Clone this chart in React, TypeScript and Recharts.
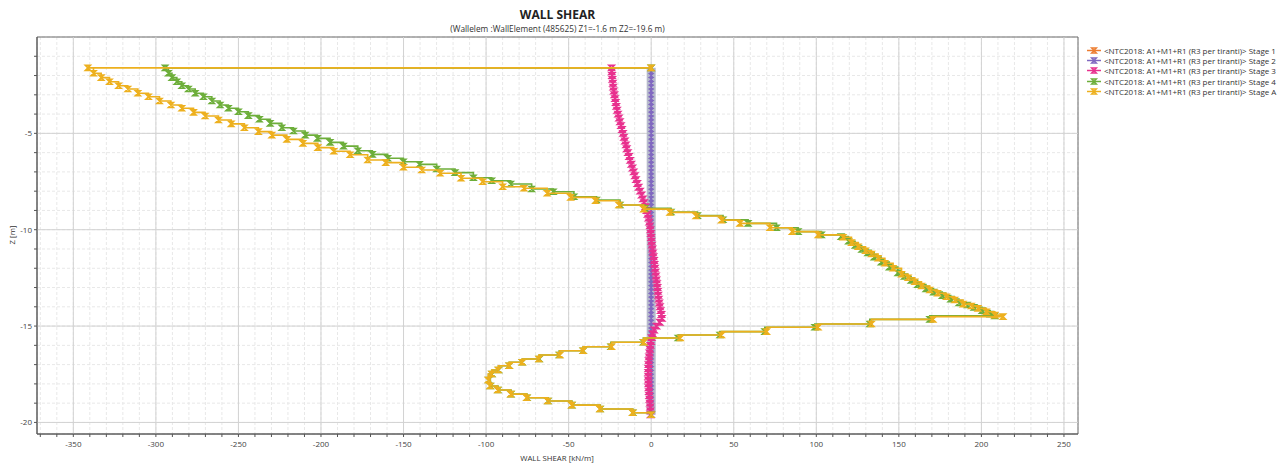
import React from 'react';
import { ScatterChart, Scatter, XAxis, YAxis, CartesianGrid, ReferenceLine, ReferenceArea } from 'recharts';

const FONT = "'Open Sans', 'Noto Sans', sans-serif";

// Depth of wall nodes [m]
const nodeDepths = [
  -1.6, -1.8, -2.0, -2.2, -2.4, -2.6, -2.8, -3.0, -3.2, -3.4,
  -3.6, -3.8, -4.0, -4.2, -4.4, -4.6, -4.8, -5.0, -5.2, -5.4,
  -5.6, -5.8, -6.0, -6.2, -6.4, -6.6, -6.8, -7.0, -7.2, -7.4,
  -7.6, -7.8, -8.0, -8.2, -8.4, -8.6, -8.8, -9.0, -9.2, -9.4,
  -9.6, -9.8, -10.0, -10.2, -10.4, -10.6, -10.8, -11.0, -11.2, -11.4,
  -11.6, -11.8, -12.0, -12.2, -12.4, -12.6, -12.8, -13.0, -13.2, -13.4,
  -13.6, -13.8, -14.0, -14.2, -14.4, -14.6, -14.8, -15.0, -15.2, -15.4,
  -15.6, -15.8, -16.0, -16.2, -16.4, -16.6, -16.8, -17.0, -17.2, -17.4,
  -17.6, -17.8, -18.0, -18.2, -18.4, -18.6, -18.8, -19.0, -19.2, -19.4,
  -19.6,
];

const stage1Shear = [
  0, 0, 0, 0, 0, 0, 0, 0, 0, 0,
  0, 0, 0, 0, 0, 0, 0, 0, 0, 0,
  0, 0, 0, 0, 0, 0, 0, 0, 0, 0,
  0, 0, 0, 0, 0, 0, 0, 0, 0, 0,
  0, 0, 0, 0, 0, 0, 0, 0, 0, 0,
  0, 0, 0, 0, 0, 0, 0, 0, 0, 0,
  0, 0, 0, 0, 0, 0, 0, 0, 0, 0,
  0, 0, 0, 0, 0, 0, 0, 0, 0, 0,
  0, 0, 0, 0, 0, 0, 0, 0, 0, 0,
  0,
];

const stage2Shear = [
  0, 0, 0, 0, 0, 0, 0, 0, 0, 0,
  0, 0, 0, 0, 0, 0, 0, 0, 0, 0,
  0, 0, 0, 0, 0, 0, 0, 0, 0, 0,
  0, 0, 0, 0, 0, 0, 0, 0, 0, 0,
  0, 0, 0, 0, 0, 0, 0, 0, 0, 0,
  0, 0, 0, 0, 0, 0, 0, 0, 0, 0,
  0, 0, 0, 0, 0, 0, 0, 0, 0, 0,
  0, 0, 0, 0, 0, 0, 0, 0, 0, 0,
  0, 0, 0, 0, 0, 0, 0, 0, 0, 0,
  0,
];

const stage3Shear = [
  -24.0, -23.9, -23.7, -23.5, -23.2, -23.0, -22.7, -22.3, -21.9, -21.5,
  -21.1, -20.6, -20.1, -19.5, -18.9, -18.3, -17.7, -17.1, -16.5, -15.9,
  -15.3, -14.8, -14.1, -13.4, -12.7, -12.0, -11.3, -10.6, -9.9, -9.2,
  -8.4, -7.6, -6.7, -5.8, -5.0, -4.3, -3.5, -2.8, -2.2, -1.7,
  -1.2, -0.8, -0.5, -0.2, 0.0, 0.2, 0.5, 0.8, 1.1, 1.4,
  1.7, 2.0, 2.3, 2.6, 2.9, 3.2, 3.5, 3.8, 4.0, 4.3,
  4.6, 4.9, 5.3, 5.7, 6.2, 6.5, 5.2, 3.2, 1.8, 0.9,
  0.3, -0.1, -0.5, -0.8, -1.1, -1.3, -1.5, -1.6, -1.7, -1.8,
  -1.8, -1.8, -1.7, -1.6, -1.4, -1.2, -1.0, -0.8, -0.6, -0.5,
  -0.4,
];

const stage4Depths = [
  -1.6, -1.6, -1.88, -2.11, -2.32, -2.53, -2.70, -2.92, -3.10, -3.32,
  -3.53, -3.70, -3.88, -4.08, -4.27, -4.48, -4.71, -4.88, -5.09, -5.26,
  -5.47, -5.66, -5.90, -6.09, -6.29, -6.47, -6.61, -6.85, -7.04, -7.30,
  -7.46, -7.63, -7.89, -8.03, -8.29, -8.46, -8.72, -8.89, -9.08, -9.27,
  -9.48, -9.67, -9.90, -10.10, -10.27, -10.36, -10.60, -10.82, -11.03, -11.20,
  -11.42, -11.68, -11.94, -12.24, -12.43, -12.63, -12.85, -13.07, -13.24, -13.42,
  -13.60, -13.80, -13.91, -14.03, -14.20, -14.38, -14.47, -14.65, -14.89, -15.06,
  -15.29, -15.46, -15.62, -15.84, -16.07, -16.28, -16.50, -16.71, -16.88, -17.06,
  -17.28, -17.49, -17.80, -18.11, -18.32, -18.53, -18.72, -18.89, -19.10, -19.30,
  -19.50, -19.6,
];

const stage4Shear = [
  0, -294.4, -292.4, -290.3, -287.3, -284.3, -280.3, -276.2, -271.2, -266.1,
  -261.1, -256.1, -250.0, -244.0, -237.3, -230.8, -223.7, -216.7, -209.6, -202.2,
  -194.5, -186.4, -177.7, -168.9, -159.6, -150.1, -140.4, -129.9, -118.8, -107.7,
  -96.6, -85.1, -72.4, -59.3, -46.8, -33.1, -18.9, -3.8, 12.0, 28.0,
  43.5, 58.7, 75.9, 89.0, 103.1, 115.0, 119.5, 123.5, 127.5, 131.2,
  135.0, 139.3, 144.2, 149.4, 153.3, 157.4, 161.4, 166.4, 171.0, 176.3,
  181.4, 186.4, 191.4, 195.5, 200.4, 205.3, 208.1, 168.7, 132.4, 99.1,
  68.8, 41.6, 16.3, -4.8, -24.4, -41.2, -55.7, -67.8, -78.1, -86.0,
  -92.4, -96.4, -98.5, -97.4, -92.8, -84.9, -75.2, -62.5, -48.0, -30.9,
  -11.1, 0,
];

const stageADepths = [
  -1.6, -1.6, -1.88, -2.11, -2.32, -2.53, -2.70, -2.92, -3.10, -3.32,
  -3.53, -3.70, -3.91, -4.10, -4.31, -4.51, -4.71, -4.91, -5.09, -5.31,
  -5.52, -5.74, -5.93, -6.11, -6.38, -6.52, -6.76, -6.90, -7.07, -7.33,
  -7.51, -7.77, -7.85, -8.11, -8.32, -8.50, -8.72, -8.93, -9.10, -9.29,
  -9.50, -9.67, -9.90, -10.10, -10.27, -10.39, -10.67, -10.88, -11.09, -11.26,
  -11.48, -11.74, -12.00, -12.31, -12.49, -12.70, -12.92, -13.13, -13.30, -13.48,
  -13.65, -13.86, -13.96, -14.08, -14.26, -14.43, -14.51, -14.65, -14.89, -15.06,
  -15.29, -15.46, -15.62, -15.84, -16.07, -16.28, -16.50, -16.71, -16.88, -17.06,
  -17.28, -17.49, -17.80, -18.11, -18.32, -18.53, -18.72, -18.89, -19.10, -19.30,
  -19.50, -19.6,
];

const stageAShear = [
  0, -341.2, -337.8, -333.1, -328.1, -322.6, -317.0, -310.9, -304.5, -297.8,
  -290.9, -284.3, -277.2, -270.2, -262.1, -254.4, -246.4, -237.9, -229.8, -220.7,
  -211.0, -201.9, -192.3, -182.4, -171.7, -160.8, -150.1, -139.0, -127.9, -115.2,
  -102.1, -90.0, -77.1, -63.0, -48.8, -33.7, -19.6, -4.6, 11.3, 27.1,
  42.6, 53.7, 71.9, 85.4, 101.1, 116.2, 121.3, 125.3, 129.8, 133.4,
  137.4, 141.5, 146.5, 151.6, 155.6, 159.6, 163.7, 168.7, 173.4, 178.8,
  183.8, 188.9, 193.9, 197.9, 203.0, 208.1, 213.1, 170.7, 133.4, 101.1,
  69.9, 42.6, 17.7, -4.4, -24.0, -41.2, -55.3, -68.0, -78.1, -86.0,
  -92.6, -96.6, -98.7, -97.6, -93.0, -85.1, -75.4, -62.7, -48.2, -31.1,
  -11.3, 0,
];

const xTicks = [
  -370, -360, -350, -340, -330, -320, -310, -300, -290, -280, -270, -260, -250, -240, -230, -220,
  -210, -200, -190, -180, -170, -160, -150, -140, -130, -120, -110, -100, -90, -80, -70, -60,
  -50, -40, -30, -20, -10, 0, 10, 20, 30, 40, 50, 60, 70, 80, 90, 100, 110, 120, 130, 140,
  150, 160, 170, 180, 190, 200, 210, 220, 230, 240, 250,
];
const xMajorTicks = [-350, -300, -250, -200, -150, -100, -50, 0, 50, 100, 150, 200, 250];
const yTicks = [-20, -19, -18, -17, -16, -15, -14, -13, -12, -11, -10, -9, -8, -7, -6, -5, -4, -3, -2, -1];
const yMajorTicks = [-20, -15, -10, -5];

const X_DOMAIN: [number, number] = [-372, 258.5];
const Y_DOMAIN: [number, number] = [-20.6, 0];

const seriesNames = [
  '<NTC2018: A1+M1+R1 (R3 per tiranti)> Stage 1',
  '<NTC2018: A1+M1+R1 (R3 per tiranti)> Stage 2',
  '<NTC2018: A1+M1+R1 (R3 per tiranti)> Stage 3',
  '<NTC2018: A1+M1+R1 (R3 per tiranti)> Stage 4',
  '<NTC2018: A1+M1+R1 (R3 per tiranti)> Stage A',
];
const seriesColors = ['#ED7D31', '#8068C0', '#E8318E', '#6DAE3A', '#EDB01E'];
const BAND_COLOR = '#B6BACB';

const toPoints = (xs: number[], zs: number[]) => xs.map((x, i) => ({ x, z: zs[i] }));

const data1 = toPoints(stage1Shear, nodeDepths);
const data2 = toPoints(stage2Shear, nodeDepths);
const data3 = toPoints(stage3Shear, nodeDepths);
const data4 = toPoints(stage4Shear, stage4Depths);
const dataA = toPoints(stageAShear, stageADepths);

const hourglass = (color: string, size: number, sw: number) => (props: any) => {
  const { cx, cy } = props;
  if (typeof cx !== 'number' || typeof cy !== 'number') return <g />;
  const s = size / 2;
  return (
    <path
      d={`M${cx - s},${cy - s}H${cx + s}L${cx - s},${cy + s}H${cx + s}Z`}
      fill="none"
      stroke={color}
      strokeWidth={sw}
    />
  );
};

const noShape = () => <g />;

const XTick = (props: any) => {
  const { x, y, payload } = props;
  if (payload.value % 50 !== 0) return <g />;
  return (
    <text x={x} y={y} dy={8} textAnchor="middle" fontSize={8} fontFamily={FONT} fill="#444">
      {payload.value}
    </text>
  );
};

const YTick = (props: any) => {
  const { x, y, payload } = props;
  if (payload.value % 5 !== 0) return <g />;
  return (
    <text x={x} y={y} dy={3} textAnchor="end" fontSize={8} fontFamily={FONT} fill="#444">
      {payload.value}
    </text>
  );
};

const LegendIcon = ({ color }: { color: string }) => (
  <svg width={14} height={9} style={{ display: 'block', flex: '0 0 auto' }}>
    <line x1={0} y1={4.5} x2={14} y2={4.5} stroke={color} strokeWidth={1.5} />
    <path d="M4.5,2H9.5L4.5,7H9.5Z" fill="none" stroke={color} strokeWidth={1.3} />
  </svg>
);

export default function App() {
  return (
    <div style={{ position: 'absolute', left: 0, top: 0, width: 1286, height: 466, background: '#fff', fontFamily: FONT }}>
      <div style={{ position: 'absolute', left: 557.5, top: 13.5, transform: 'translate(-50%, -50%)', fontSize: 12, fontWeight: 700, color: '#222', whiteSpace: 'nowrap' }}>
        WALL SHEAR
      </div>
      <div style={{ position: 'absolute', left: 557.5, top: 28.3, transform: 'translate(-50%, -50%)', fontSize: 8.3, color: '#333', whiteSpace: 'nowrap' }}>
        (Wallelem :WallElement (485625) Z1=-1.6 m Z2=-19.6 m)
      </div>
      <div style={{ position: 'absolute', left: 557, top: 458, transform: 'translate(-50%, -50%)', fontSize: 7.8, color: '#333', whiteSpace: 'nowrap' }}>
        WALL SHEAR [kN/m]
      </div>
      <div style={{ position: 'absolute', left: 12, top: 235, transform: 'translate(-50%, -50%) rotate(-90deg)', fontSize: 7.8, color: '#333', whiteSpace: 'nowrap' }}>
        Z [m]
      </div>

      <ScatterChart width={1286} height={466} margin={{ top: 37, right: 208, bottom: 12, left: 0 }}>
        <CartesianGrid stroke="#E8E8E8" strokeDasharray="3 2" />
        {xMajorTicks.map((v) => (
          <ReferenceLine key={'vx' + v} x={v} stroke="#D2D2D2" strokeWidth={1} />
        ))}
        {yMajorTicks.map((v) => (
          <ReferenceLine key={'hy' + v} y={v} stroke="#D2D2D2" strokeWidth={1} />
        ))}
        <XAxis
          type="number"
          dataKey="x"
          domain={X_DOMAIN}
          ticks={xTicks}
          interval={0}
          allowDataOverflow
          height={20}
          tickSize={3}
          tickMargin={2}
          axisLine={{ stroke: '#555' }}
          tickLine={{ stroke: '#555' }}
          tick={XTick}
        />
        <YAxis
          type="number"
          dataKey="z"
          domain={Y_DOMAIN}
          ticks={yTicks}
          interval={0}
          allowDataOverflow
          width={37}
          tickSize={3}
          tickMargin={2}
          axisLine={{ stroke: '#555' }}
          tickLine={{ stroke: '#555' }}
          tick={YTick}
        />
        <Scatter
          name={seriesNames[0]}
          data={data1}
          line={{ stroke: seriesColors[0], strokeWidth: 1.5 }}
          lineType="joint"
          shape={hourglass(seriesColors[0], 4, 1.2)}
          isAnimationActive={false}
        />
        <Scatter
          name="band"
          data={data2}
          legendType="none"
          line={{ stroke: BAND_COLOR, strokeWidth: 9 }}
          lineType="joint"
          shape={noShape}
          isAnimationActive={false}
        />
        <Scatter
          name={seriesNames[1]}
          data={data2}
          line={{ stroke: seriesColors[1], strokeWidth: 1.5 }}
          lineType="joint"
          shape={hourglass(seriesColors[1], 3.6, 1.1)}
          isAnimationActive={false}
        />
        <Scatter
          name={seriesNames[2]}
          data={data3}
          line={{ stroke: seriesColors[2], strokeWidth: 2 }}
          lineType="joint"
          shape={hourglass(seriesColors[2], 5.2, 1.7)}
          isAnimationActive={false}
        />
        <Scatter
          name={seriesNames[3]}
          data={data4}
          line={{ stroke: seriesColors[3], strokeWidth: 1.6 }}
          lineType="joint"
          lineJointType="stepAfter"
          shape={hourglass(seriesColors[3], 5, 1.6)}
          isAnimationActive={false}
        />
        <Scatter
          name={seriesNames[4]}
          data={dataA}
          line={{ stroke: seriesColors[4], strokeWidth: 1.6 }}
          lineType="joint"
          lineJointType="stepAfter"
          shape={hourglass(seriesColors[4], 5, 1.6)}
          isAnimationActive={false}
        />
        <ReferenceArea
          x1={X_DOMAIN[0]}
          x2={X_DOMAIN[1]}
          y1={Y_DOMAIN[0]}
          y2={Y_DOMAIN[1]}
          fill="none"
          fillOpacity={0}
          stroke="#6A6A6A"
          strokeWidth={1}
        />
      </ScatterChart>

      <div style={{ position: 'absolute', left: 1087, top: 45, fontSize: 8, color: '#333' }}>
        {seriesNames.map((n, i) => (
          <div key={n} style={{ display: 'flex', alignItems: 'center', height: 10.4, whiteSpace: 'nowrap' }}>
            <LegendIcon color={seriesColors[i]} />
            <span style={{ marginLeft: 3 }}>{n}</span>
          </div>
        ))}
      </div>
    </div>
  );
}
